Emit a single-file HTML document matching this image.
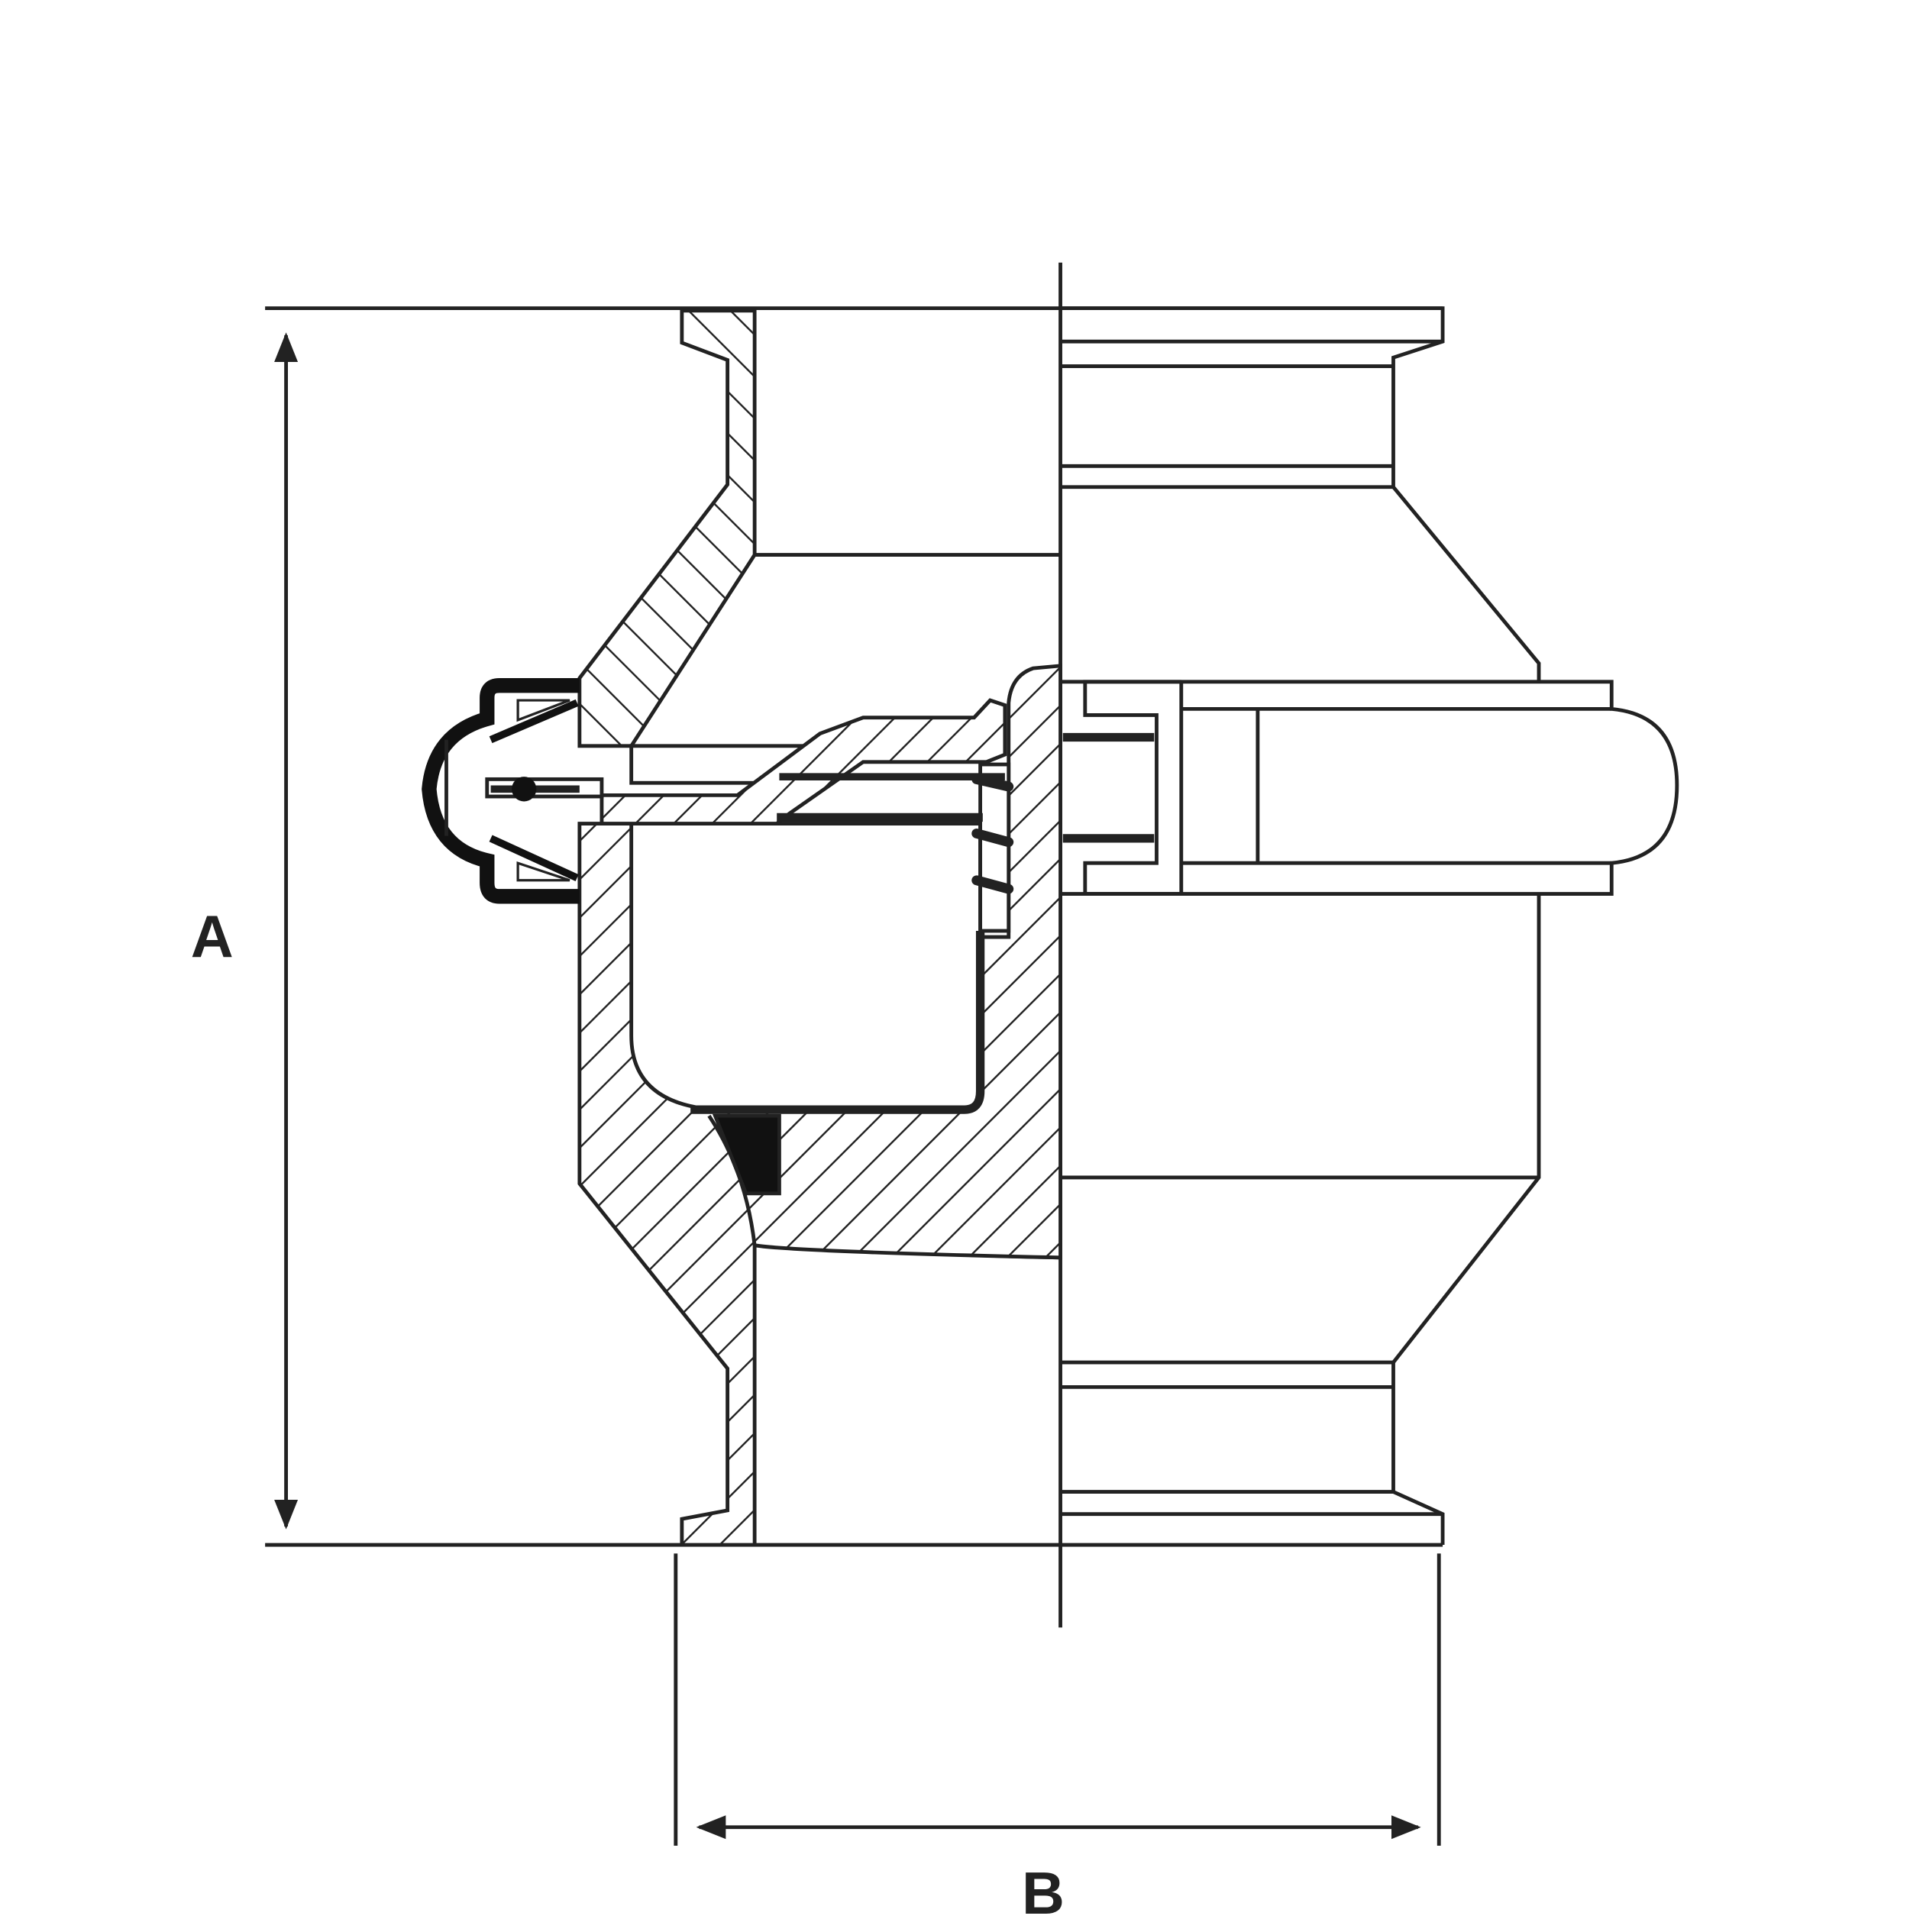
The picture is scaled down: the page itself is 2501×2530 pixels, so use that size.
<!DOCTYPE html>
<html><head><meta charset="utf-8"><style>html,body{margin:0;padding:0;background:#fff}svg{display:block}</style></head>
<body>
<svg width="2501" height="2530" viewBox="0 0 1549 1567" preserveAspectRatio="none" xmlns="http://www.w3.org/2000/svg">
<defs>
<pattern id="hf" width="22" height="22" patternUnits="userSpaceOnUse" patternTransform="rotate(45)">
<rect width="22" height="22" fill="#fff"/><line x1="0" y1="0" x2="0" y2="22" stroke="#222" stroke-width="3"/></pattern>
<pattern id="hb" width="24" height="24" patternUnits="userSpaceOnUse" patternTransform="rotate(-45)">
<rect width="24" height="24" fill="#fff"/><line x1="0" y1="0" x2="0" y2="24" stroke="#222" stroke-width="3"/></pattern>
<marker id="ar" viewBox="0 0 10 10" refX="9" refY="5" markerWidth="8" markerHeight="8" orient="auto-start-reverse"><path d="M0,1 L10,5 L0,9 Z" fill="#222"/></marker>
</defs>
<g fill="none" stroke="#222" stroke-width="3" stroke-linejoin="miter">
<line x1="215" y1="250" x2="1170" y2="250"/>
<line x1="215" y1="1253" x2="1170" y2="1253"/>
<line x1="232" y1="272" x2="232" y2="1238" marker-start="url(#ar)" marker-end="url(#ar)"/>
<line x1="860" y1="213" x2="860" y2="1320"/>
<line x1="548" y1="1260" x2="548" y2="1497"/>
<line x1="1167" y1="1260" x2="1167" y2="1497"/>
<line x1="567" y1="1482" x2="1150" y2="1482" marker-start="url(#ar)" marker-end="url(#ar)"/>

<path d="M860,250 L1170,250 L1170,277 L1130,290 L1130,395 L1248,538 L1248,553"/>
<line x1="860" y1="277" x2="1170" y2="277"/>
<line x1="860" y1="297" x2="1130" y2="297"/>
<line x1="860" y1="378" x2="1130" y2="378"/>
<line x1="860" y1="395" x2="1130" y2="395"/>
<path d="M1248,725 L1248,955 L1130,1105 L1130,1210 L1170,1228 L1170,1253"/>
<line x1="860" y1="955" x2="1248" y2="955"/>
<line x1="860" y1="1105" x2="1130" y2="1105"/>
<line x1="860" y1="1125" x2="1130" y2="1125"/>
<line x1="860" y1="1210" x2="1130" y2="1210"/>
<line x1="860" y1="1228" x2="1170" y2="1228"/>
<path d="M860,553 L1307,553 L1307,575 Q1360,580 1360,637 Q1360,695 1307,700 L1307,725 L860,725"/>
<line x1="958" y1="575" x2="1307" y2="575"/>
<line x1="958" y1="700" x2="1307" y2="700"/>
<line x1="958" y1="553" x2="958" y2="725"/>
<line x1="1020" y1="575" x2="1020" y2="700"/>
<path d="M958,553 L880,553 L880,580 L938,580 L938,700 L880,700 L880,725 L958,725"/>
<line x1="862" y1="598" x2="936" y2="598" stroke-width="7"/>
<line x1="862" y1="680" x2="936" y2="680" stroke-width="7"/>

<line x1="612" y1="450" x2="860" y2="450"/>
<path d="M612,1010 Q700,1016 860,1020"/>

<path d="M553,252 L612,252 L612,450 L512,605 L470,605 L470,550 L590,393 L590,292 L553,278 Z" fill="url(#hb)"/>
<path d="M470,668 L470,960 L590,1110 L590,1225 L553,1232 L553,1253 L612,1253 L612,1010 Q640,1015 860,1020 L860,540 L838,542 Q820,548 818,570 L818,760 L795,760 L795,668 Z" fill="url(#hf)"/>
<path d="M512,668 L795,668 L795,885 Q795,900 780,900 L580,900 Q512,895 512,840 Z" fill="#fff"/>
<path d="M560,900 L782,900 Q795,900 795,885 L795,755" stroke-width="7"/>
<path d="M575,905 Q605,950 612,1010" />
<path d="M580,905 L632,905 L632,968 L605,968 Z" fill="#111"/>
<rect x="795" y="620" width="23" height="135" fill="#fff"/>
<g stroke-width="8" stroke-linecap="round">
<line x1="792" y1="632" x2="818" y2="638"/>
<line x1="792" y1="676" x2="818" y2="683"/>
<line x1="792" y1="714" x2="818" y2="721"/>
</g>
<rect x="512" y="605" width="150" height="30" fill="#fff"/>
<path d="M488,645 L598,645 L665,595 L700,582 L790,582 L803,568 L815,572 L815,612 L800,618 L700,618 L640,660 L630,668 L488,668 Z" fill="url(#hf)"/>
<line x1="632" y1="630" x2="815" y2="630" stroke-width="6"/>
<line x1="630" y1="663" x2="797" y2="663" stroke-width="7"/>
<rect x="395" y="632" width="93" height="14" fill="#fff"/>
<line x1="398" y1="640" x2="470" y2="640" stroke-width="6"/>
<circle cx="425" cy="640" r="10" fill="#111" stroke="none"/>
<path d="M470,556 L405,556 Q395,556 395,566 L395,583 Q352,595 348,640 Q352,688 395,698 L395,716 Q395,727 405,727 L470,727" stroke="#111" stroke-width="12"/>
<path d="M420,568 L462,568 L420,584 Z" fill="#fff" stroke-width="2"/>
<path d="M420,714 L462,714 L420,700 Z" fill="#fff" stroke-width="2"/>
<path d="M398,600 L468,570 M398,680 L468,712" stroke="#111" stroke-width="6"/>
<line x1="362" y1="600" x2="362" y2="678" stroke-width="3"/>
</g>
<g font-family="Liberation Sans, sans-serif" font-weight="bold" font-size="48" fill="#222" text-anchor="middle">
<text x="172" y="776">A</text>
<text x="846" y="1552">B</text>
</g>
</svg>
</body></html>
